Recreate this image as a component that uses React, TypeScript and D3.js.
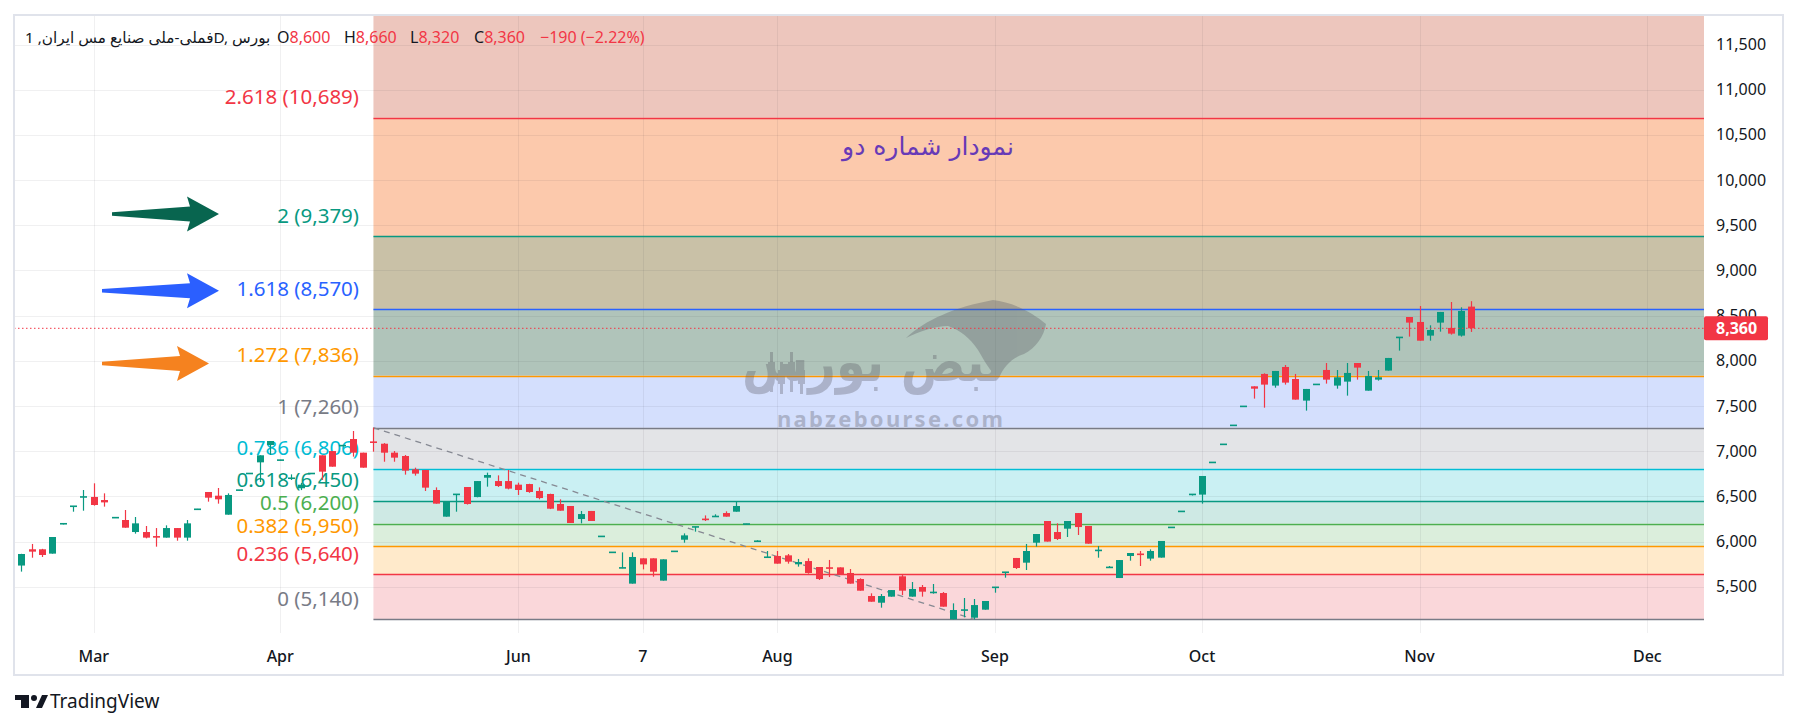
import React from "react";
import * as d3 from "d3";

// ---------- DATA ----------
const opens = [5735,5915,5915,5867,6195,6390,6490,6494,6460,6265,6239,6106,6106,6055,6044,6150,6044,6355,6549,6508,6298,6568,6752,6877,7069,6900,6700,6590,6752,6955,7002,7062,7135,6984,7102,7083,6984,6947,6800,6792,6571,6276,6520,6604,6493,6707,6670,6670,6630,6637,6560,6527,6416,6394,6250,6339,6055,5881,5708,5535,5815,5815,5568,5892,6021,6160,6248,6276,6316,6331,6193,6003,5826,5841,5848,5749,5785,5719,5710,5715,5653,5586,5398,5324,5391,5616,5391,5498,5435,5431,5140,5240,5158,5247,5494,5660,5819,5767,5988,6228,6106,6143,6316,6173,5900,5713,5597,5841,5862,5812,5823,6156,6333,6520,6520,6875,7075,7285,7495,7718,7855,7726,7932,7799,7560,7738,7899,7726,7770,7976,7670,7792,7892,8258,8485,8430,8279,8423,8364,8279,8600];
const highs = [5865,5974,5920,6051,6205,6392,6571,6645,6534,6268,6350,6272,6173,6150,6180,6150,6239,6362,6549,6593,6534,6571,6757,6955,7113,6905,6744,6650,6757,6955,7002,7065,7224,6984,7261,7090,7002,6958,6818,6792,6600,6446,6525,6604,6670,6763,6733,6792,6652,6640,6600,6530,6468,6394,6339,6339,6060,5883,5881,5881,5815,5815,5804,5894,6091,6165,6290,6302,6335,6442,6197,6015,5896,5896,5863,5808,5815,5719,5797,5715,5697,5594,5428,5420,5464,5630,5553,5520,5531,5442,5317,5376,5365,5343,5496,5662,5819,5974,6084,6228,6202,6228,6316,6173,5951,5730,5796,5874,5896,5914,6007,6160,6337,6526,6726,6879,7079,7289,7499,7718,7862,7888,7954,7855,7689,7742,7976,7899,7976,7976,7888,7899,8032,8262,8485,8607,8393,8541,8651,8592,8660];
const lows = [5668,5822,5830,5867,6190,6331,6342,6398,6387,6262,6154,6088,6036,5944,6044,6010,6010,6350,6442,6420,6298,6565,6750,6660,6958,6898,6682,6570,6750,6682,6829,7058,6940,6818,6995,6884,6884,6741,6730,6560,6420,6276,6331,6410,6490,6608,6605,6578,6516,6540,6468,6360,6342,6206,6202,6228,6055,5879,5706,5535,5693,5612,5568,5890,5988,6110,6228,6276,6276,6331,6193,6003,5826,5756,5756,5723,5645,5575,5608,5641,5535,5457,5335,5269,5391,5409,5391,5391,5424,5280,5140,5162,5140,5247,5435,5601,5697,5686,5944,6000,6018,6051,6073,5977,5822,5710,5597,5789,5730,5789,5823,6156,6333,6510,6420,6875,7075,7285,7495,7582,7482,7703,7737,7571,7449,7738,7748,7692,7615,7792,7670,7781,7892,8113,8268,8223,8223,8323,8290,8268,8320];
const closes = [5863,5889,5852,6051,6200,6392,6498,6405,6434,6265,6154,6202,6044,6050,6150,6044,6202,6360,6486,6468,6516,6571,6755,6955,7113,6903,6702,6630,6755,6774,6829,7062,6984,6818,7098,6984,6929,6785,6752,6597,6420,6446,6525,6416,6670,6737,6615,6586,6571,6549,6482,6364,6342,6206,6305,6228,6060,5881,5710,5830,5748,5667,5804,5892,6069,6165,6244,6280,6276,6394,6195,6005,5828,5756,5778,5774,5653,5586,5705,5641,5535,5457,5335,5398,5464,5457,5476,5446,5440,5280,5243,5245,5298,5343,5494,5662,5708,5896,6084,6000,6029,6228,6161,5977,5905,5716,5796,5874,5857,5896,6007,6158,6335,6524,6726,6877,7077,7287,7497,7692,7737,7888,7759,7571,7689,7740,7792,7818,7866,7925,7833,7818,8032,8260,8423,8223,8341,8541,8301,8552,8360];

const monthLabels = ["Mar", "Apr", "Jun", "7", "Aug", "Sep", "Oct", "Nov", "Dec"];
const monthBarIndex = [7, 25, 48, 60, 73, 94, 114, 135, 157];

const priceTicks = [5500, 6000, 6500, 7000, 7500, 8000, 8500, 9000, 9500, 10000, 10500, 11000, 11500];

const fibRatios = ["0", "0.236", "0.382", "0.5", "0.618", "0.786", "1", "1.272", "1.618", "2", "2.618"];
const fibValues = [5140, 5640, 5950, 6200, 6450, 6806, 7260, 7836, 8570, 9379, 10689];
const fibLineColors = ["#787b86", "#f23645", "#ff9800", "#4caf50", "#089981", "#00bcd4", "#787b86", "#ff9800", "#2962ff", "#089981", "#f23645"];
// fill of the band that ends at each level (index 0 unused)
const fibFillColors = ["none", "#fad7da", "#ffeacb", "#dbeedc", "#cee9e4", "#caf0f3", "#e3e4e7", "#d4dffd", "#b0c4ba", "#c9c1a7", "#fcc9ac"];
const fibTopFill = "#edc6bd";
const fibStartBar = 34;

const trendBars = [34, 92];
const trendPrices = [7260, 5140];

const lastPrice = 8360;

const legendTitle = "فملی-ملی صنایع مس ایران, 1D, بورس";
const ohlcLabels = ["O", "H", "L", "C"];
const ohlcValues = ["8,600", "8,660", "8,320", "8,360"];
const changeText = "−190 (−2.22%)";

const arrowColors = ["#08654f", "#2b5fff", "#f5821f"];
const arrowPrices = [9625, 8775, 7970];

// ---------- LAYOUT ----------
const W = 1800;
const H = 728;
const frameL = 14, frameT = 15, frameR = 1783, frameB = 675;
const plotR = 1704, plotB = 633;

const UP = "#089981";
const DOWN = "#f23645";

export default function App() {
  const n = closes.length;
  const x = d3.scaleLinear().domain([0, n - 1]).range([21.3, 1471.3]);
  const y = d3.scaleLinear().domain([5500, 11500]).range([586.8, 44.5]);

  const fibX0 = x(fibStartBar);
  const fmt = d3.format(",");

  const bodyW = 7;

  const arrowGeom = [
    { tail: 112, tip: 219 },
    { tail: 102, tip: 219 },
    { tail: 102, tip: 209 },
  ];

  const arrowPoints = (tail: number, tip: number, cy: number) => {
    const headLen = 29, headHalf = 17.5, sT = 1.8, sH = 7.5;
    const b = tip - headLen;
    return [
      [tail, cy - sT], [b, cy - sH], [b - 3, cy - headHalf], [tip, cy],
      [b - 3, cy + headHalf], [b, cy + sH], [tail, cy + sT],
    ].map((p) => p.join(",")).join(" ");
  };

  const ohlcX = [277, 344, 410, 474];
  const changeX = 540;

  const sans = "'Noto Sans', 'DejaVu Sans', sans-serif";

  return (
    <div style={{ position: "fixed", left: 0, top: 0 }}>
      <svg width={W} height={H} style={{ display: "block", background: "#fff" }}>
        <defs>
          <clipPath id="plotClip">
            <rect x={frameL} y={frameT} width={plotR - frameL} height={plotB - frameT} />
          </clipPath>
        </defs>
        <rect x={0} y={0} width={W} height={H} fill="#fff" />

        <g clipPath="url(#plotClip)">
          {/* fib fills */}
          <rect x={fibX0} y={frameT} width={plotR - fibX0} height={y(fibValues[fibValues.length - 1]) - frameT} fill={fibTopFill} />
          {fibValues.map((v, k) =>
            k === 0 ? null : (
              <rect key={"ff" + k} x={fibX0} y={y(v)} width={plotR - fibX0} height={y(fibValues[k - 1]) - y(v)} fill={fibFillColors[k]} />
            )
          )}

          {/* grid */}
          {priceTicks.map((t) => (
            <line key={"gh" + t} x1={frameL} x2={plotR} y1={Math.round(y(t)) + 0.5} y2={Math.round(y(t)) + 0.5} stroke="rgba(42,46,57,0.07)" strokeWidth={1} />
          ))}
          {monthBarIndex.map((b, k) => (
            <line key={"gv" + k} x1={Math.round(x(b)) + 0.5} x2={Math.round(x(b)) + 0.5} y1={frameT} y2={plotB} stroke="rgba(42,46,57,0.07)" strokeWidth={1} />
          ))}

          {/* fib lines */}
          {fibValues.map((v, k) => (
            <line key={"fl" + k} x1={fibX0} x2={plotR} y1={Math.round(y(v)) + 0.5} y2={Math.round(y(v)) + 0.5} stroke={fibLineColors[k]} strokeWidth={1.3} />
          ))}

          {/* fib labels */}
          {fibValues.map((v, k) => (
            <text key={"ft" + k} x={359} y={y(v) - 13.5} textAnchor="end" fontFamily={sans} fontSize={20.5} fill={fibLineColors[k]}>
              {fibRatios[k] + " (" + fmt(v) + ")"}
            </text>
          ))}

          {/* watermark */}
          <g opacity={0.33} fill="#5a5a64">
            <path d="M 906,338 C 925,320 955,307 993,300 C 1012,302 1032,312 1046,324 C 1044,336 1036,348 1024,354 C 1012,358 1004,366 999,378 C 990,372 984,360 978,350 C 970,338 960,330 948,326 C 935,326 920,331 906,338 Z" />
            <text x={873} y={381} textAnchor="middle" fontFamily="'DejaVu Sans', sans-serif" fontWeight="bold" fontSize={56} textLength={262} lengthAdjust="spacingAndGlyphs">
              نبض بورس
            </text>
            {[0, 1, 2, 3].map((j) => (
              <g key={"wc" + j}>
                <rect x={770 + j * 10} y={352 + (j % 2) * 10} width={3} height={40 - (j % 2) * 8} />
                <rect x={768 + j * 10} y={362 + (j % 2) * 8} width={7} height={14} />
              </g>
            ))}
            <text x={777} y={427} fontFamily={sans} fontWeight="bold" fontSize={22} textLength={226} lengthAdjust="spacing">
              nabzebourse.com
            </text>
          </g>

          {/* trend line */}
          <line x1={x(trendBars[0])} y1={y(trendPrices[0])} x2={x(trendBars[1])} y2={y(trendPrices[1])} stroke="#868993" strokeWidth={1.3} strokeDasharray="6,5" />

          {/* candles */}
          {closes.map((c, i) => {
            const o = opens[i];
            const col = c >= o ? UP : DOWN;
            const cx = Math.round(x(i));
            const top = y(Math.max(o, c));
            const bot = y(Math.min(o, c));
            const h = Math.max(1.6, bot - top);
            return (
              <g key={"c" + i}>
                <line x1={cx + 0.5} x2={cx + 0.5} y1={y(highs[i])} y2={y(lows[i])} stroke={col} strokeWidth={1.2} />
                <rect x={cx + 0.5 - bodyW / 2} y={h === 1.6 ? (top + bot) / 2 - 0.8 : top} width={bodyW} height={h} fill={col} />
              </g>
            );
          })}

          {/* last price line */}
          <line x1={frameL} x2={plotR} y1={y(lastPrice)} y2={y(lastPrice)} stroke={DOWN} strokeWidth={1} strokeDasharray="1.5,2.5" />

          {/* title annotation */}
          <text x={928} y={155} textAnchor="middle" fontFamily="'DejaVu Sans', sans-serif" fontSize={25} fill="#673ab7">
            نمودار شماره دو
          </text>

          {/* arrows */}
          {arrowColors.map((col, k) => (
            <polygon key={"ar" + k} points={arrowPoints(arrowGeom[k].tail, arrowGeom[k].tip, y(arrowPrices[k]))} fill={col} />
          ))}
        </g>

        {/* legend */}
        <text x={25} y={43} fontFamily={sans} fontSize={15.3} fill="#131722" direction="ltr">
          {legendTitle}
        </text>
        {ohlcLabels.map((lab, k) => (
          <text key={"oh" + k} x={ohlcX[k]} y={43} fontFamily={sans} fontSize={16} fill="#131722">
            <tspan>{lab}</tspan>
            <tspan fill={DOWN}>{ohlcValues[k]}</tspan>
          </text>
        ))}
        <text x={changeX} y={43} fontFamily={sans} fontSize={16} fill={DOWN}>
          {changeText}
        </text>

        {/* price axis */}
        {priceTicks.map((t) => (
          <text key={"pt" + t} x={1716} y={y(t) + 5.5} fontFamily={sans} fontSize={16} fill="#131722">
            {fmt(t)}
          </text>
        ))}
        <rect x={1704} y={y(lastPrice) - 12} width={64} height={24} rx={2} fill={DOWN} />
        <text x={1716} y={y(lastPrice) + 5.5} fontFamily={sans} fontSize={16} fontWeight="bold" fill="#fff">
          {fmt(lastPrice)}
        </text>

        {/* time axis */}
        {monthLabels.map((m, k) => (
          <text key={"tl" + k} x={x(monthBarIndex[k])} y={661.5} textAnchor="middle" fontFamily={sans} fontSize={16} fontWeight={500} fill="#131722">
            {m}
          </text>
        ))}

        {/* frame */}
        <rect x={frameL} y={frameT} width={frameR - frameL} height={frameB - frameT} fill="none" stroke="#e0e3eb" strokeWidth={2} />

        {/* TradingView logo */}
        <g fill="#131722">
          <rect x={15} y={695} width={14} height={5} />
          <rect x={21} y={695} width={8} height={13} />
          <circle cx={34} cy={698} r={3} />
          <polygon points="36,708 42,708 48,695 42,695" />
          <text x={50} y={708} fontFamily={sans} fontSize={19} fill="#131722">TradingView</text>
        </g>
      </svg>
    </div>
  );
}
